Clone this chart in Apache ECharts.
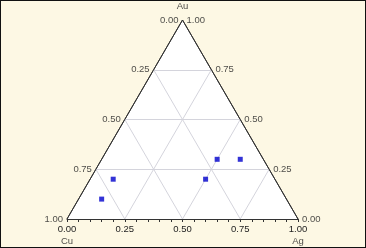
<!DOCTYPE html>
<html><head><meta charset="utf-8">
<script src="https://cdn.jsdelivr.net/npm/echarts@6/dist/echarts.min.js"></script>
<style>
html,body{margin:0;padding:0;background:#fdf8e4;}
#c{position:absolute;left:0;top:0;width:366px;height:248px;}
#frame{position:absolute;left:0;top:0;width:366px;height:248px;box-sizing:border-box;border:1.5px solid #111;pointer-events:none;}
</style></head>
<body>
<div id="c"></div><div id="frame"></div>
<script>
// Composition data (fractions)
const cuVals = [0.7, 0.8, 0.2, 0.1, 0.3];
const agVals = [0.1, 0.1, 0.5, 0.6, 0.5];
const auVals = [0.2, 0.1, 0.3, 0.3, 0.2];
const tickVals = [0, 0.25, 0.5, 0.75, 1];
const gridVals = [0.25, 0.5, 0.75];
const vertexNames = ['Cu', 'Ag', 'Au'];

const H = Math.sqrt(3) / 2;
function tern(cu, ag, au) { return [ag + au / 2, au * H]; }

const font = 'Liberation Sans, Arial, sans-serif';
const txt = '#222';
const fs = 9.5;

// grid lines
const gridLines = [];
gridVals.forEach(v => {
  gridLines.push({coords: [tern(1 - v, 0, v), tern(0, 1 - v, v)]});
  gridLines.push({coords: [tern(1 - v, v, 0), tern(0, v, 1 - v)]});
  gridLines.push({coords: [tern(v, 1 - v, 0), tern(v, 0, 1 - v)]});
});

const leftLabels = tickVals.map(v => ({value: tern(v, 0, 1 - v), name: v.toFixed(2)}));
const rightLabels = tickVals.map(v => ({value: tern(0, 1 - v, v), name: v.toFixed(2)}));
const points = cuVals.map((c, i) => tern(c, agVals[i], auVals[i]));

const chart = echarts.init(document.getElementById('c'));
chart.setOption({
  backgroundColor: '#fdf8e4',
  animation: false,
  grid: {left: 67, right: 68, top: 20, bottom: 29},
  xAxis: {
    type: 'value', min: 0, max: 1, interval: 0.25,
    axisLine: {show: true, onZero: false, lineStyle: {color: '#333', width: 1}},
    axisTick: {show: true, length: 3, lineStyle: {color: '#333'}},
    minorTick: {show: true, splitNumber: 5, length: 3, lineStyle: {color: '#333'}},
    splitLine: {show: false},
    axisLabel: {showMinLabel: true, showMaxLabel: true, margin: 5, fontSize: fs, color: txt, fontFamily: font,
      formatter: v => v.toFixed(2)}
  },
  yAxis: {type: 'value', min: 0, max: H, show: false},
  series: [
    {
      type: 'line', data: [tern(1, 0, 0), tern(0, 0, 1), tern(0, 1, 0)],
      symbol: 'none', z: 1,
      lineStyle: {color: '#333', width: 1},
      areaStyle: {color: '#ffffff', opacity: 1}
    },
    {
      type: 'lines', coordinateSystem: 'cartesian2d', data: gridLines, z: 2,
      lineStyle: {color: '#d4d4dc', width: 1, opacity: 1}
    },
    {
      type: 'line', data: [tern(1, 0, 0), tern(0, 0, 1), tern(0, 1, 0)],
      symbol: 'none', z: 3, lineStyle: {color: '#333', width: 1}
    },
    {
      type: 'scatter', data: leftLabels, symbolSize: 0, z: 4,
      label: {show: true, position: 'left', distance: 4, formatter: p => p.name, fontSize: fs, color: txt, fontFamily: font}
    },
    {
      type: 'scatter', data: rightLabels, symbolSize: 0, z: 4,
      label: {show: true, position: 'right', distance: 4, formatter: p => p.name, fontSize: fs, color: txt, fontFamily: font}
    },
    {
      type: 'scatter', symbolSize: 0, z: 4,
      data: [
        {value: tern(1, 0, 0), name: vertexNames[0], label: {position: 'bottom', distance: 17}},
        {value: tern(0, 1, 0), name: vertexNames[1], label: {position: 'bottom', distance: 17}},
        {value: tern(0, 0, 1), name: vertexNames[2], label: {position: 'top', distance: 9}}
      ],
      label: {show: true, formatter: p => p.name, fontSize: fs, color: txt, fontFamily: font}
    },
    {
      type: 'scatter', data: points, symbol: 'rect', symbolSize: 5, z: 5,
      itemStyle: {color: '#0000cc'}
    }
  ]
});
</script>
</body></html>
